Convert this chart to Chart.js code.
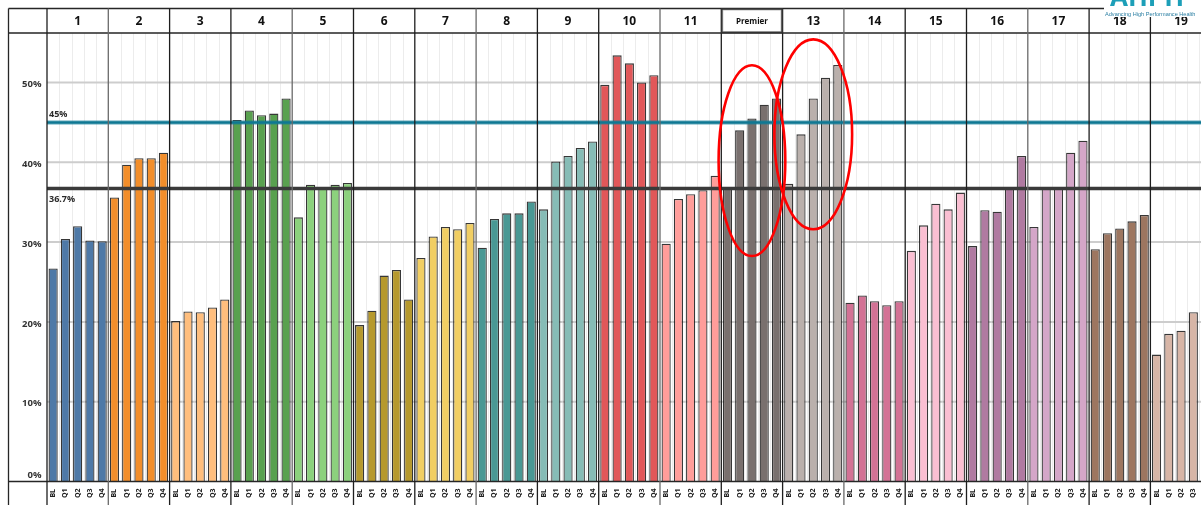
<!DOCTYPE html>
<html>
<head>
<meta charset="utf-8">
<script src="https://cdn.jsdelivr.net/npm/chart.js@4/dist/chart.umd.min.js"></script>
<style>
  html, body { margin: 0; padding: 0; background: #fff; overflow: hidden; }
  canvas { display: block; }
</style>
</head>
<body>
<canvas id="chart" width="1215" height="505"></canvas>
<script>
// Program groups shown across the top of the chart
const groupNames = ['1','2','3','4','5','6','7','8','9','10','11','Premier','13','14','15','16','17','18','19'];
// Measurement points inside each group
const periods = ['BL','Q1','Q2','Q3','Q4'];
// Share of members (%) at each measurement point, one entry per group
const blRates = [26.7, 35.6, 20.1, 45.3, 33.1, 19.6, 28.0, 29.3, 34.1, 49.7, 29.8, 36.7, 37.3, 22.4, 28.9, 29.5, 31.9, 29.1, 15.9];
const q1Rates = [30.4, 39.7, 21.3, 46.5, 37.2, 21.4, 30.7, 32.9, 40.1, 53.4, 35.4, 44.0, 43.5, 23.3, 32.1, 34.0, 36.8, 31.1, 18.5];
const q2Rates = [32.0, 40.5, 21.2, 45.9, 36.9, 25.8, 31.9, 33.6, 40.8, 52.4, 36.0, 45.5, 48.0, 22.6, 34.8, 33.8, 36.8, 31.7, 18.9];
const q3Rates = [30.2, 40.5, 21.8, 46.1, 37.2, 26.5, 31.6, 33.6, 41.8, 50.0, 36.5, 47.2, 50.6, 22.1, 34.1, 36.8, 41.2, 32.6, 21.2];
const q4Rates = [30.1, 41.2, 22.8, 48.0, 37.4, 22.8, 32.4, 35.1, 42.6, 50.9, 38.3, 48.0, 52.2, 22.6, 36.2, 40.8, 42.7, 33.4, 21.4];
// Reference levels
const targetLevel = 45;
const averageLevel = 36.7;
// Y axis ticks
const yTicks = [0, 10, 20, 30, 40, 50];

// Fill colour for each group
const groupColors = ['#4e79a7','#f28e2b','#ffbe7d','#59a14f','#8cd17d','#b6992d','#f1ce63','#499894','#86bcb6','#e15759',
                     '#ff9d9a','#79706e','#bab0ac','#d37295','#fabfd2','#b07aa1','#d4a6c8','#9d7660','#d7b5a6'];

// Highlight rings around the Premier and group 13 bars (centre bar index, centre value, half width in bars, half height in %)
const highlights = [
  { index: 57.0, value: 40.2, halfBars: 2.72, halfRange: 11.95 },
  { index: 62.0, value: 43.5, halfBars: 3.17, halfRange: 11.9 }
];

const seriesByPeriod = [blRates, q1Rates, q2Rates, q3Rates, q4Rates];
const labels = [], values = [], fills = [];
groupNames.forEach((g, gi) => {
  periods.forEach((p, pi) => {
    labels.push(p);
    values.push(seriesByPeriod[pi][gi]);
    fills.push(groupColors[gi]);
  });
});

const FONT = '"Open Sans", "Liberation Sans", sans-serif';

const frame = {
  id: 'frame',
  beforeDatasetsDraw(chart) {
    const { ctx, chartArea: a, scales: { x, y } } = chart;
    const W = chart.width;
    const slot = x.getPixelForValue(1) - x.getPixelForValue(0);
    ctx.save();
    // faint separators between bars
    ctx.strokeStyle = '#ececec';
    ctx.lineWidth = 1;
    for (let i = 1; i < labels.length; i++) {
      if (i % 5 === 0) continue;
      const px = Math.round(x.getPixelForValue(i) - slot / 2) + 0.5;
      ctx.beginPath(); ctx.moveTo(px, a.top); ctx.lineTo(px, a.bottom); ctx.stroke();
    }
    // horizontal gridlines
    ctx.strokeStyle = '#cdcdcd';
    ctx.lineWidth = 2;
    yTicks.forEach(v => {
      if (v === 0) return;
      const py = y.getPixelForValue(v);
      ctx.beginPath(); ctx.moveTo(a.left, py); ctx.lineTo(W, py); ctx.stroke();
    });
    ctx.restore();
  },
  afterDatasetsDraw(chart) {
    const { ctx, chartArea: a, scales: { x, y } } = chart;
    const W = chart.width, H = chart.height;
    const slot = x.getPixelForValue(1) - x.getPixelForValue(0);
    const edge = i => x.getPixelForValue(i) - slot / 2;
    ctx.save();

    // reference lines
    const ty = y.getPixelForValue(targetLevel);
    ctx.strokeStyle = 'rgba(20,125,152,0.45)'; ctx.lineWidth = 4.5;
    ctx.beginPath(); ctx.moveTo(a.left, ty); ctx.lineTo(W, ty); ctx.stroke();
    ctx.strokeStyle = '#0f7893'; ctx.lineWidth = 2.5;
    ctx.beginPath(); ctx.moveTo(a.left, ty); ctx.lineTo(W, ty); ctx.stroke();
    const ay = y.getPixelForValue(averageLevel);
    ctx.strokeStyle = '#3a3a3a'; ctx.lineWidth = 3.5;
    ctx.beginPath(); ctx.moveTo(a.left, ay); ctx.lineTo(W, ay); ctx.stroke();

    ctx.fillStyle = '#2a2a2a';
    ctx.font = 'bold 9px ' + FONT;
    ctx.textAlign = 'left'; ctx.textBaseline = 'alphabetic';
    ctx.fillText(targetLevel + '%', a.left + 2, ty - 5);
    ctx.fillText(averageLevel + '%', a.left + 2, ay + 13);

    // table frame
    const headTop = 8.5, headBottom = a.top, leftX = 8.5;
    ctx.strokeStyle = '#262626'; ctx.lineWidth = 1.3;
    ctx.beginPath();
    ctx.moveTo(leftX, headTop); ctx.lineTo(W, headTop);
    ctx.moveTo(leftX, headBottom); ctx.lineTo(W, headBottom);
    ctx.moveTo(leftX, a.bottom); ctx.lineTo(W, a.bottom);
    ctx.moveTo(leftX, headTop); ctx.lineTo(leftX, H);
    ctx.stroke();
    for (let g = 0; g <= groupNames.length; g++) {
      const px = edge(g * 5);
      ctx.strokeStyle = (g % 3 === 1) ? '#6a6a6a' : '#1e1e1e';
      ctx.beginPath(); ctx.moveTo(px, headTop); ctx.lineTo(px, H); ctx.stroke();
    }

    // group headers
    groupNames.forEach((name, g) => {
      const l = edge(g * 5), r = edge(g * 5 + 5), cx = (l + r) / 2;
      ctx.fillStyle = '#111';
      ctx.textAlign = 'center'; ctx.textBaseline = 'middle';
      if (name === 'Premier') {
        ctx.strokeStyle = '#bdbdbd'; ctx.lineWidth = 1;
        ctx.strokeRect(l + 1.5, headTop + 1.5, r - l - 3, headBottom - headTop - 3);
        ctx.strokeStyle = '#333'; ctx.lineWidth = 1.6;
        ctx.strokeRect(l + 0.5, headTop + 0.5, r - l - 1, headBottom - headTop - 1);
        ctx.font = 'bold 8px ' + FONT;
        ctx.fillText(name, cx, (headTop + headBottom) / 2 + 0.5);
      } else {
        ctx.font = 'bold 12px ' + FONT;
        ctx.fillText(name, cx, (headTop + headBottom) / 2 + 0.5);
      }
    });

    // period labels under each bar
    ctx.fillStyle = '#222';
    ctx.font = 'bold 7px ' + FONT;
    labels.forEach((lab, i) => {
      const px = x.getPixelForValue(i);
      ctx.save();
      ctx.translate(px, (a.bottom + H) / 2);
      ctx.rotate(-Math.PI / 2);
      ctx.textAlign = 'center'; ctx.textBaseline = 'middle';
      ctx.fillText(lab, 0, 0);
      ctx.restore();
    });

    // y axis labels
    ctx.fillStyle = '#333';
    ctx.font = 'bold 9.5px ' + FONT;
    ctx.textAlign = 'right'; ctx.textBaseline = 'middle';
    yTicks.forEach(v => {
      const py = y.getPixelForValue(v) + (v === 0 ? -6 : 2);
      ctx.fillText(v + '%', a.left - 5.5, py);
    });

    // highlight rings
    ctx.strokeStyle = '#ff0000'; ctx.lineWidth = 2.6;
    highlights.forEach(h => {
      const cx = x.getPixelForValue(h.index);
      const cy = y.getPixelForValue(h.value);
      const rx = h.halfBars * slot;
      const ry = Math.abs(y.getPixelForValue(h.value + h.halfRange) - cy);
      ctx.beginPath(); ctx.ellipse(cx, cy, rx, ry, 0, 0, Math.PI * 2); ctx.stroke();
    });

    // brand mark
    ctx.fillStyle = '#fff';
    ctx.fillRect(1104, 0, 97, 17);
    ctx.fillStyle = '#1d9fb8';
    ctx.font = 'bold 26px ' + FONT;
    ctx.textAlign = 'left'; ctx.textBaseline = 'alphabetic';
    ctx.fillText('AHPH', 1110, 6);
    ctx.fillStyle = '#2b7fa3';
    ctx.font = '5.6px "Liberation Sans", sans-serif';
    ctx.fillText('Advancing High Performance Health', 1105, 16, 94);

    ctx.restore();
  }
};

new Chart(document.getElementById('chart'), {
  type: 'bar',
  data: {
    labels: labels,
    datasets: [{
      data: values,
      backgroundColor: fills,
      borderColor: 'rgba(20,20,20,0.85)',
      borderWidth: 1.3,
      barPercentage: 0.75,
      categoryPercentage: 1.0
    }]
  },
  options: {
    responsive: false,
    animation: false,
    devicePixelRatio: 1,
    layout: { padding: { left: 47, right: 3.3, top: 33, bottom: 23.5 } },
    scales: {
      x: { display: false },
      y: { display: false, min: 0, max: 56.2 }
    },
    plugins: { legend: { display: false }, tooltip: { enabled: false } }
  },
  plugins: [frame]
});
</script>
</body>
</html>
